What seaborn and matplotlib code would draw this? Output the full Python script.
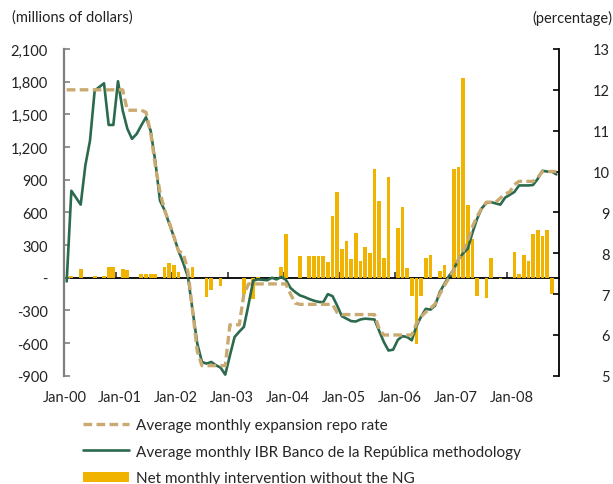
import numpy as np
import matplotlib
matplotlib.use("Agg")
import matplotlib.pyplot as plt
from matplotlib.ticker import FuncFormatter
import seaborn as sns

# monthly positions (Jan-00 ... Oct-08)
month_idx = list(range(106))
year_labels = ['Jan-00', 'Jan-01', 'Jan-02', 'Jan-03', 'Jan-04',
               'Jan-05', 'Jan-06', 'Jan-07', 'Jan-08']

# net monthly intervention (millions of dollars)
intervention = [
    0, 15, 0, 76, 0, 0, 15, 0, 18, 100, 100, 0,
    83, 67, 0, 0, 31, 31, 31, 31, 0, 98, 138, 119,
    49, 0, 0, 98, 0, 0, -177, -108, 0, -76, 0, 0,
    0, 0, -147, 0, -195, 10, 0, 0, 0, 0, 98, 398,
    0, 0, 196, 0, 196, 196, 196, 196, 144, 566, 786, 266,
    333, 168, 410, 150, 281, 226, 1000, 709, 180, 927, 0, 456,
    654, 86, -171, -612, -171, 180, 211, 0, 61, 116, 0, 1000,
    1021, 1835, 670, 358, -168, 0, -183, 177, 0, -15, 0, 0,
    232, 37, 211, 153, 404, 440, 379, 440, -153, 0,
]

# average monthly IBR (percentage)
ibr = [
    7.31, 9.53, 9.36, 9.19, 10.15, 10.76, 11.98, 12.07, 12.16, 11.14, 11.14, 12.21,
    11.5, 11.05, 10.8, 10.92, 11.13, 11.33, 11.0, 10.25, 9.29, 9.05, 8.72, 8.40,
    8.05, 7.76, 7.42, 6.60, 5.79, 5.34, 5.30, 5.34, 5.26, 5.20, 5.03, 5.50,
    5.95, 6.08, 6.2, 6.75, 7.33, 7.36, 7.35, 7.34, 7.40, 7.36, 7.42, 7.35,
    7.15, 7.05, 6.97, 6.93, 6.88, 6.84, 6.81, 6.80, 7.0, 6.95, 6.72, 6.46,
    6.40, 6.34, 6.33, 6.38, 6.40, 6.39, 6.38, 6.1, 5.83, 5.62, 5.64, 5.88,
    5.97, 5.95, 5.87, 6.22, 6.45, 6.64, 6.62, 6.72, 7.05, 7.25, 7.45, 7.6,
    7.85, 8.0, 8.11, 8.5, 8.84, 9.1, 9.23, 9.25, 9.22, 9.19, 9.36, 9.43,
    9.5, 9.66, 9.66, 9.66, 9.67, 9.82, 10.02, 10.0, 10.0, 9.93,
]

# average monthly expansion repo rate (percentage)
repo = [
    12.0, 12.0, 12.0, 12.0, 12.0, 12.0, 12.0, 12.0, 12.0, 12.0, 12.0, 12.0,
    12.0, 11.5, 11.5, 11.5, 11.5, 11.45, 10.95, 10.15, 9.5, 9.05, 8.75, 8.4,
    8.05, 8.0, 7.55, 6.6, 5.6, 5.25, 5.25, 5.25, 5.25, 5.25, 5.25, 6.25,
    6.25, 6.25, 7.0, 7.25, 7.25, 7.25, 7.25, 7.25, 7.25, 7.25, 7.25, 7.25,
    7.0, 6.78, 6.75, 6.75, 6.75, 6.75, 6.75, 6.75, 6.75, 6.75, 6.55, 6.5,
    6.5, 6.5, 6.5, 6.5, 6.5, 6.5, 6.5, 6.15, 6.0, 6.0, 6.0, 6.0,
    6.0, 6.0, 6.0, 6.28, 6.45, 6.56, 6.65, 6.76, 7.0, 7.21, 7.4, 7.6,
    7.85, 8.05, 8.3, 8.65, 8.9, 9.1, 9.25, 9.25, 9.25, 9.35, 9.45, 9.5,
    9.68, 9.76, 9.76, 9.76, 9.76, 9.85, 10.0, 10.0, 10.0, 10.0,
]

BAR = '#F0B400'
GREEN = '#2C6A4E'
TAN = '#C9AB72'

sns.set_style("white")
plt.rcParams['font.family'] = ['Lato', 'DejaVu Sans']
plt.rcParams['font.size'] = 10

fig = plt.figure(figsize=(6.13, 4.85), dpi=100)
ax = fig.add_axes([0.105, 0.223, 0.8064, 0.674])

sns.barplot(x=month_idx, y=intervention, native_scale=True, color=BAR,
            saturation=1, width=0.8, linewidth=0, ax=ax,
            label='Net monthly intervention without the NG')
ax.set_xlim(-0.5, 105.5)
ax.set_ylim(-900, 2100)
ax.set_yticks(range(-900, 2101, 300))
ax.yaxis.set_major_formatter(FuncFormatter(lambda v, p: '-' if v == 0 else f'{v:,.0f}'))
ax.set_xticks([12 * k - 0.5 for k in range(len(year_labels))])
ax.set_xticklabels(year_labels)
ax.set_xlabel('')
ax.set_ylabel('')
ax.tick_params(axis='x', length=0, pad=10, labelsize=10.5)
ax.tick_params(axis='y', direction='in', length=4, width=1.2, color='#7f7f7f',
               pad=12, labelsize=10.5, labelcolor='#222222')
for s in ['top', 'right', 'bottom']:
    ax.spines[s].set_visible(False)
ax.spines['left'].set_color('#7f7f7f')
ax.spines['left'].set_linewidth(1.6)

# zero line with year ticks
zero = ax.secondary_xaxis(900 / 3000)
zero.set_xticks([12 * k + 10.5 for k in range(8)])
zero.tick_params(direction='in', length=4, width=1.3, color='#444444',
                 labelbottom=False, labeltop=False)
for s in zero.spines.values():
    s.set_color('black')
    s.set_linewidth(1.3)

ax2 = ax.twinx()
sns.lineplot(x=month_idx, y=ibr, ax=ax2, color=GREEN, linewidth=1.9,
             label='Average monthly IBR Banco de la República methodology')
sns.lineplot(x=month_idx, y=repo, ax=ax2, color=TAN, linewidth=2.4,
             linestyle=(0, (2.6, 1.3)), label='Average monthly expansion repo rate')
ax2.set_ylim(5, 13)
ax2.set_yticks(range(5, 14))
ax2.set_ylabel('')
ax2.tick_params(axis='y', direction='in', length=4, width=1.2, color='black',
                pad=37, labelsize=10.5, labelcolor='#222222')
for lab in ax2.get_yticklabels():
    lab.set_horizontalalignment('right')
for s in ['top', 'left', 'bottom']:
    ax2.spines[s].set_visible(False)
ax2.spines['right'].set_color('black')
ax2.spines['right'].set_linewidth(1.3)

h1, l1 = ax.get_legend_handles_labels()
h2, l2 = ax2.get_legend_handles_labels()
if ax.get_legend():
    ax.get_legend().remove()
if ax2.get_legend():
    ax2.get_legend().remove()
handles = [h2[1], h2[0], h1[0]]
labels = [l2[1], l2[0], l1[0]]
fig.legend(handles, labels, loc='upper left', bbox_to_anchor=(83 / 613, 1 - 419 / 485),
           frameon=False, fontsize=11, handlelength=3.0, handletextpad=0.45,
           labelspacing=0.83, borderpad=0, borderaxespad=0)

fig.text(12 / 613, 1 - 18 / 485, '(millions of dollars)', va='center', fontsize=10.5, color='#222222')
fig.text(612 / 613, 1 - 18 / 485, '(percentage)', va='center', ha='right', fontsize=10.5, color='#222222')

fig.savefig('out.png', dpi=100)
